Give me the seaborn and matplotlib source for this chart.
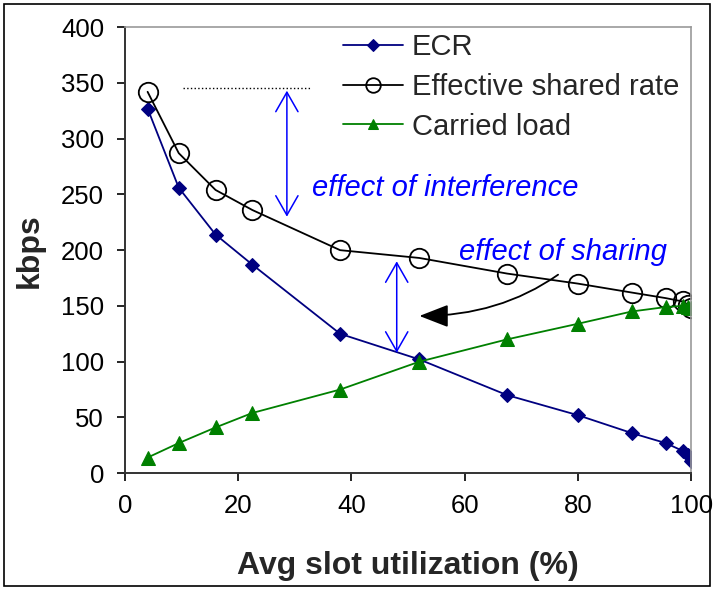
import numpy as np
import pandas as pd
import matplotlib
matplotlib.use("Agg")
import matplotlib.pyplot as plt
import seaborn as sns
from matplotlib.patches import Rectangle

# values
util = [4, 9.5, 16, 22.5, 38, 52, 67.5, 80, 89.5, 95.5, 98.5, 99.5, 100]
ecr = [327, 256, 214, 187, 125, 102, 70, 52, 36, 27, 20, 16, 11]
shared_rate = [342, 287, 254, 236, 200, 193, 179, 170, 162, 157, 154, 151, 148]
carried_load = [14, 27, 41, 54, 75, 100, 120, 134, 145, 149, 150, 149, 148]

x_ticks = [0, 20, 40, 60, 80, 100]
y_ticks = [0, 50, 100, 150, 200, 250, 300, 350, 400]

sns.set_style("white")
plt.rcParams['font.family'] = ['Liberation Sans', 'DejaVu Sans']

fig = plt.figure(figsize=(7.14, 5.9), dpi=100)
ax = fig.add_axes([0.175, 0.198, 0.793, 0.756])

df = pd.DataFrame({'util': util, 'ECR': ecr,
                   'Effective shared rate': shared_rate,
                   'Carried load': carried_load})

sns.lineplot(data=df, x='util', y='ECR', ax=ax, color='#000080', lw=1.3,
             marker='D', markersize=7.5, markeredgecolor='#000080', label='ECR')
sns.lineplot(data=df, x='util', y='Effective shared rate', ax=ax, color='black', lw=1.3,
             marker='o', markersize=14, markerfacecolor='none', markeredgecolor='black',
             markeredgewidth=1.3, label='Effective shared rate')
sns.lineplot(data=df, x='util', y='Carried load', ax=ax, color='#008000', lw=1.3,
             marker='^', markersize=9.5, markeredgecolor='#008000', label='Carried load')

ax.set_xlim(0, 100)
ax.set_ylim(0, 400)
ax.set_xticks(x_ticks)
ax.set_yticks(y_ticks)
ax.tick_params(axis='both', direction='out', length=6, width=1.2, labelsize=18.5, pad=9,
               bottom=True, left=True, colors='black')
ax.set_xlabel('Avg slot utilization (%)', fontsize=23, fontweight='bold', labelpad=24)
ax.set_ylabel('kbps', fontsize=23, fontweight='bold', labelpad=12)

for s in ['left', 'bottom']:
    ax.spines[s].set_color('#333333')
    ax.spines[s].set_linewidth(1.4)
for s in ['top', 'right']:
    ax.spines[s].set_color('#999999')
    ax.spines[s].set_linewidth(1.2)

leg = ax.legend(loc='upper right', bbox_to_anchor=(1.025, 1.045), frameon=False,
                fontsize=21, handlelength=2.05, labelspacing=0.4, handletextpad=0.3,
                markerscale=0.75)

blue = '#0000FF'
# effect of interference
ax.plot([10.2, 32.7], [345, 345], color='black', ls=':', lw=1)
ax.annotate('', xy=(28.6, 343), xytext=(28.6, 230),
            arrowprops=dict(arrowstyle='<->,head_length=1.4,head_width=0.8', color=blue, lw=1.1,
                            shrinkA=0, shrinkB=0))
ax.text(33, 256, 'effect of interference', color=blue, fontsize=21, style='italic',
        va='center', ha='left')

# effect of sharing
ax.annotate('', xy=(48, 190), xytext=(48, 108),
            arrowprops=dict(arrowstyle='<->,head_length=1.4,head_width=0.8', color=blue, lw=1.1,
                            shrinkA=0, shrinkB=0))
ax.text(59, 198, 'effect of sharing', color=blue, fontsize=21, style='italic',
        va='center', ha='left')
ax.annotate('', xy=(52, 141), xytext=(76.5, 178),
            arrowprops=dict(arrowstyle='-|>,head_length=1.8,head_width=0.7', color='black',
                            lw=1.3, shrinkA=0, shrinkB=0,
                            connectionstyle='angle3,angleA=35,angleB=0'))

fig.patches.append(Rectangle((0.006, 0.006), 0.988, 0.988, transform=fig.transFigure,
                             fill=False, edgecolor='black', lw=1.2))

fig.savefig('out.png', dpi=100)
